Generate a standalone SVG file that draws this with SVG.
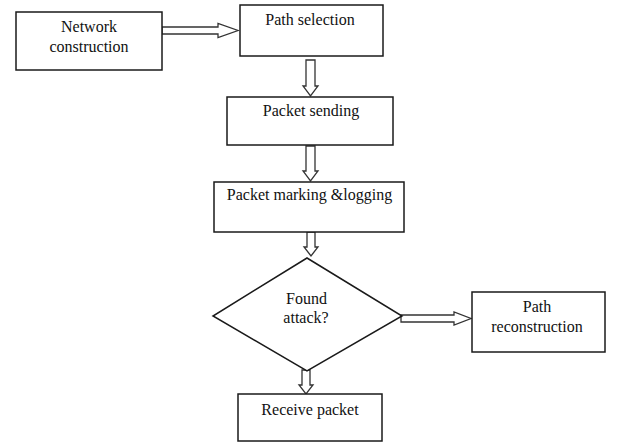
<svg xmlns="http://www.w3.org/2000/svg" width="636" height="445" viewBox="0 0 636 445">
<style>
.box{fill:#fff;stroke:#1a1a1a;stroke-width:1.5}
.arr{fill:#fff;stroke:#333;stroke-width:1.3;stroke-linejoin:miter}
.t{font-family:'Liberation Serif','Times New Roman',serif;font-size:16px;fill:#111;text-anchor:middle}
</style>
<rect width="636" height="445" fill="#fff"/>
<g id="connectors">
<polygon class="arr" points="162,27 218,27 218,23.5 238,30.5 218,37.5 218,34 162,34"/>
<polygon class="arr" points="306,60 315,60 315,86 318,86 310.5,96 303,86 306,86"/>
<polygon class="arr" points="306,146 315,146 315,171 318,171 310.5,181 303,171 306,171"/>
<polygon class="arr" points="307,232 315,232 315,247 318,247 311,256 304,247 307,247"/>
<polygon class="arr" points="302,370 310,370 310,385 313,385 306,394 299,385 302,385"/>
<polygon class="arr" points="401,315 454,315 454,312 471,318.5 454,325 454,322 401,322"/>
</g>
<g id="network-construction">
<rect class="box" x="16" y="12" width="146" height="58"/>
<text class="t" x="89" y="32">Network</text>
<text class="t" x="89" y="52">construction</text>
</g>
<g id="path-selection">
<rect class="box" x="240" y="5" width="143" height="51"/>
<text class="t" x="310" y="25">Path selection</text>
</g>
<g id="packet-sending">
<rect class="box" x="227" y="97" width="166" height="48"/>
<text class="t" x="311" y="116">Packet sending</text>
</g>
<g id="packet-marking">
<rect class="box" x="214" y="182" width="190" height="50"/>
<text class="t" x="309.5" y="200">Packet marking &amp;logging</text>
</g>
<g id="found-attack">
<polygon class="box" points="307,258 402,316 307,371 213,316"/>
<text class="t" x="306.5" y="304">Found</text>
<text class="t" x="306" y="323">attack?</text>
</g>
<g id="path-reconstruction">
<rect class="box" x="472" y="292" width="133" height="60"/>
<text class="t" x="537" y="312">Path</text>
<text class="t" x="537" y="332">reconstruction</text>
</g>
<g id="receive-packet">
<rect class="box" x="238" y="394" width="144" height="47"/>
<text class="t" x="310" y="415">Receive packet</text>
</g>
</svg>
